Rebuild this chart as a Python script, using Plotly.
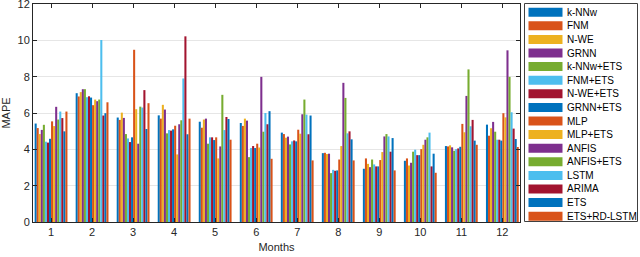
import plotly.graph_objects as go

months = [1, 2, 3, 4, 5, 6, 7, 8, 9, 10, 11, 12]
month_labels = ["1", "2", "3", "4", "5", "6", "7", "8", "9", "10", "11", "12"]
y_ticks = [0, 2, 4, 6, 8, 10, 12]

series_names = ["k-NNw", "FNM", "N-WE", "GRNN", "k-NNw+ETS", "FNM+ETS", "N-WE+ETS",
                "GRNN+ETS", "MLP", "MLP+ETS", "ANFIS", "ANFIS+ETS", "LSTM", "ARIMA",
                "ETS", "ETS+RD-LSTM"]

# MAPE per method, months 1..12
knnw       = [5.42, 7.09, 5.75, 5.87, 5.52, 5.45, 4.92, 3.79, 2.93, 3.37, 4.18, 5.36]
fnm        = [5.17, 6.91, 5.62, 5.69, 5.19, 5.29, 4.84, 3.81, 3.50, 3.50, 4.16, 4.75]
nwe        = [4.84, 7.15, 6.02, 6.45, 5.64, 5.69, 4.64, 3.74, 3.20, 3.11, 4.22, 5.16]
grnn       = [5.07, 7.31, 5.73, 6.19, 5.69, 5.58, 4.70, 3.76, 3.02, 3.26, 4.11, 5.51]
knnw_ets   = [5.35, 7.31, 4.84, 4.88, 4.31, 3.57, 4.27, 2.69, 3.44, 3.87, 3.92, 4.97]
fnm_ets    = [4.42, 6.87, 4.60, 5.06, 4.66, 4.07, 4.44, 2.87, 3.17, 3.98, 4.01, 4.53]
nwe_ets    = [4.37, 6.92, 4.40, 5.03, 4.66, 4.18, 4.49, 2.82, 3.06, 3.68, 4.05, 4.53]
grnn_ets   = [4.58, 6.85, 4.66, 5.10, 4.51, 4.07, 4.44, 2.84, 3.06, 3.68, 4.14, 4.48]
mlp        = [5.54, 6.43, 9.48, 5.30, 4.66, 4.31, 5.08, 3.44, 3.41, 4.01, 5.40, 5.99]
mlp_ets    = [5.28, 6.74, 6.21, 3.72, 3.50, 4.10, 4.86, 4.18, 3.85, 4.25, 4.94, 5.76]
anfis      = [6.34, 6.65, 4.31, 5.38, 4.16, 7.99, 5.93, 7.66, 4.71, 4.53, 6.94, 9.45]
anfis_ets  = [5.64, 6.74, 6.35, 5.60, 7.00, 4.97, 6.74, 6.83, 4.84, 4.66, 8.40, 7.99]
lstm       = [6.08, 10.02, 6.30, 7.90, 5.06, 6.00, 5.91, 4.88, 4.71, 4.92, 5.27, 6.04]
arima      = [5.72, 5.86, 7.26, 10.22, 5.78, 5.38, 4.83, 4.99, 3.87, 3.06, 5.62, 5.14]
ets        = [4.99, 5.99, 5.12, 4.83, 5.67, 6.10, 5.86, 4.55, 4.62, 3.76, 4.48, 4.57]
ets_rdlstm = [6.08, 6.59, 6.54, 5.69, 4.53, 3.48, 3.39, 3.39, 2.84, 2.71, 4.25, 4.13]

series_values = [knnw, fnm, nwe, grnn, knnw_ets, fnm_ets, nwe_ets, grnn_ets, mlp,
                 mlp_ets, anfis, anfis_ets, lstm, arima, ets, ets_rdlstm]

palette = ["#0072BD", "#D95319", "#EDB120", "#7E2F8E", "#77AC30", "#4DBEEE", "#A2142F"]

W, H = 640, 257
L, R, T, B = 33, 120, 4, 35
PW, PH = W - L - R, H - T - B

fig = go.Figure()
for i, (name, vals) in enumerate(zip(series_names, series_values)):
    fig.add_trace(go.Bar(x=months, y=vals, name=name,
                         marker=dict(color=palette[i % 7], line=dict(width=0)),
                         showlegend=False, hoverinfo="skip"))

FONT = "Liberation Sans, Arial, Helvetica, sans-serif"
AX = "#262626"

def px2x(px):
    return (px - L) / PW

def px2y(py):
    return 1 - (py - T) / PH

shapes = []
annotations = []
# legend box
shapes.append(dict(type="rect", xref="paper", yref="paper",
                   x0=px2x(524.5), x1=px2x(637.5), y0=px2y(221.5), y1=px2y(3.5),
                   line=dict(color="#404040", width=1), fillcolor="white", layer="above"))
for i, name in enumerate(series_names):
    cy = 12.2 + 13.6 * i
    shapes.append(dict(type="rect", xref="paper", yref="paper",
                       x0=px2x(528.5), x1=px2x(562.5), y0=px2y(cy + 4.5), y1=px2y(cy - 4.5),
                       line=dict(width=0), fillcolor=palette[i % 7], layer="above"))
    annotations.append(dict(xref="paper", yref="paper", x=px2x(565), y=px2y(cy),
                            text=name, showarrow=False, xanchor="left", yanchor="middle",
                            font=dict(family=FONT, size=10, color="#000000")))

fig.update_layout(
    width=W, height=H,
    margin=dict(l=L, r=R, t=T, b=B, autoexpand=False),
    paper_bgcolor="white", plot_bgcolor="white",
    barmode="group", bargap=0.2, bargroupgap=0,
    font=dict(family=FONT, size=11, color=AX),
    showlegend=False,
    shapes=shapes, annotations=annotations,
    xaxis=dict(range=[0.56, 12.43], tickmode="array", tickvals=months, ticktext=month_labels,
               ticks="inside", ticklen=4, tickcolor=AX, showline=True, linecolor=AX,
               linewidth=1, mirror="ticks", showgrid=False, zeroline=False,
               title=dict(text="Months", standoff=6, font=dict(size=11)),
               tickfont=dict(size=11), ticklabeloverflow="allow"),
    yaxis=dict(range=[0, 12.0001], tickmode="array", tickvals=y_ticks,
               ticktext=[str(v) for v in y_ticks], ticks="inside", ticklen=4, tickcolor=AX,
               showline=True, linecolor=AX, linewidth=1, mirror="ticks",
               showgrid=True, gridcolor="#e6e6e6", gridwidth=1, zeroline=False,
               title=dict(text="MAPE", standoff=4, font=dict(size=11)),
               tickfont=dict(size=11), ticklabeloverflow="allow"),
)

fig.write_html("out.html", config={"displayModeBar": False},
               post_script="document.body.style.margin='0';document.body.style.padding='0';")
